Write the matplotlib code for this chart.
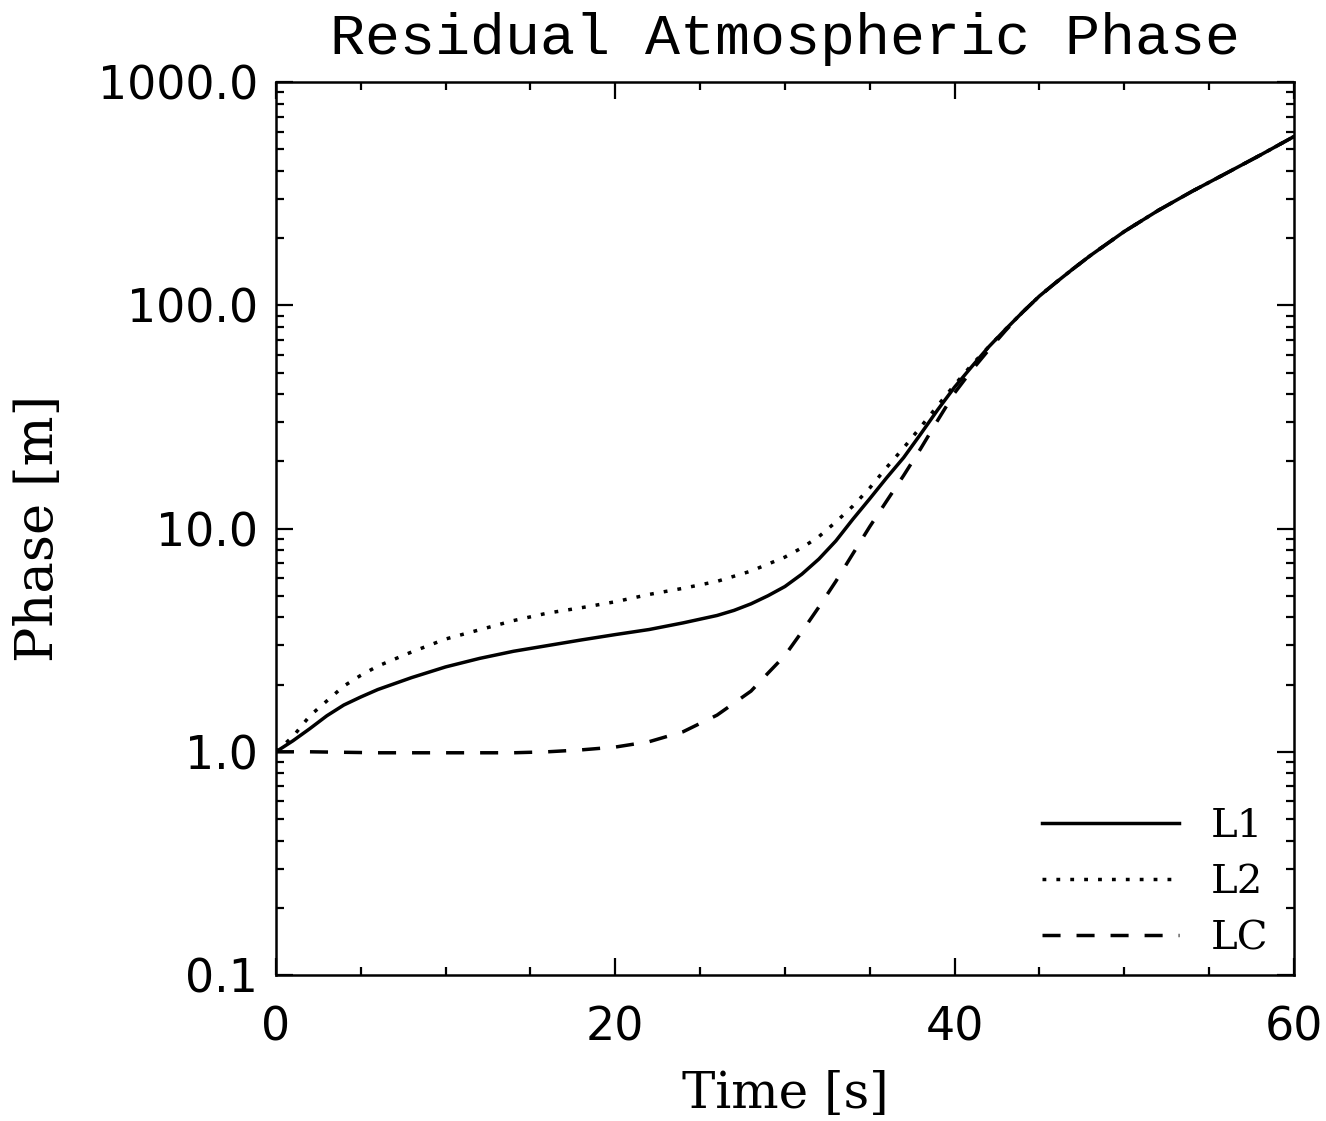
import matplotlib
matplotlib.use("Agg")
import matplotlib.pyplot as plt
from matplotlib.ticker import MultipleLocator, LogLocator, NullFormatter

# ---------------------------------------------------------------------------
# Data
# ---------------------------------------------------------------------------

t_l1 = [0, 1, 2, 3, 4, 5, 6, 8, 10, 12, 14, 16, 18, 20, 22, 24, 26, 27, 28, 29, 30,
        31, 32, 33, 34, 35, 36, 37, 38, 39, 40, 41, 42, 43, 44, 45, 46, 47, 48,
        50, 52, 54, 56, 58, 60]
phase_l1 = [1.0, 1.12, 1.27, 1.45, 1.62, 1.76, 1.9, 2.15, 2.4, 2.62, 2.82, 2.99,
            3.17, 3.35, 3.53, 3.78, 4.08, 4.3, 4.6, 5.0, 5.5, 6.25, 7.3, 8.8, 11.0,
            13.6, 16.9, 20.8, 26.5, 34.0, 43.0, 53.0, 65.0, 78.0, 93.0, 110.0,
            127.0, 146.0, 167.0, 214.0, 266.0, 324.0, 390.0, 470.0, 570.0]

t_l2 = [0, 1, 2, 3, 4, 5, 6, 8, 10, 12, 14, 16, 18, 20, 22, 24, 26, 28, 30, 31,
        32, 33, 34, 35, 36, 37, 38, 39, 40, 41, 42, 43, 44, 45, 46, 47, 48,
        50, 52, 54, 56, 58, 60]
phase_l2 = [1.0, 1.17, 1.45, 1.69, 1.97, 2.2, 2.42, 2.8, 3.2, 3.52, 3.87, 4.18,
            4.42, 4.7, 5.07, 5.4, 5.8, 6.45, 7.45, 8.2, 9.2, 10.7, 12.6, 15.2, 18.8,
            23.0, 28.5, 35.5, 44.0, 54.0, 65.0, 78.0, 93.0, 110.0, 127.0, 146.0,
            167.0, 214.0, 266.0, 324.0, 390.0, 470.0, 570.0]

t_lc = [0, 2, 4, 6, 8, 10, 12, 14, 16, 18, 20, 22, 24, 26, 28, 29, 30, 31, 32, 33,
        34, 35, 36, 37, 38, 39, 40, 41, 42, 43, 44, 45, 46, 47, 48,
        50, 52, 54, 56, 58, 60]
phase_lc = [1.0, 1.0, 0.995, 0.99, 0.99, 0.99, 0.99, 0.99, 1.0, 1.02, 1.05, 1.11,
            1.23, 1.46, 1.87, 2.25, 2.7, 3.45, 4.45, 5.8, 7.7, 10.2, 13.3, 17.3,
            22.8, 30.5, 40.5, 51.0, 63.0, 77.0, 93.0, 110.0, 127.0, 146.0, 167.0,
            214.0, 266.0, 324.0, 390.0, 470.0, 570.0]

series_labels = ["L1", "L2", "LC"]
y_ticks = [0.1, 1.0, 10.0, 100.0, 1000.0]
y_tick_labels = ["0.1", "1.0", "10.0", "100.0", "1000.0"]
x_ticks = [0, 20, 40, 60]

# ---------------------------------------------------------------------------
# Figure
# ---------------------------------------------------------------------------

SERIF = "DejaVu Serif"

fig = plt.figure(figsize=(13.26, 11.21), dpi=100)
ax = fig.add_axes([0.2081, 0.1302, 0.7677, 0.7966])

lw = 2.5
ax.plot(t_l1, phase_l1, color="black", lw=lw, label=series_labels[0])
ax.plot(t_l2, phase_l2, color="black", lw=lw, linestyle=(0, (1.1, 2.9)),
        label=series_labels[1])
ax.plot(t_lc, phase_lc, color="black", lw=lw, linestyle=(0, (5.2, 4.6)),
        label=series_labels[2])

ax.set_yscale("log")
ax.set_xlim(0, 60)
ax.set_ylim(0.1, 1000)

ax.set_xticks(x_ticks)
ax.set_xticklabels([str(v) for v in x_ticks])
ax.xaxis.set_minor_locator(MultipleLocator(5))
ax.set_yticks(y_ticks)
ax.set_yticklabels(y_tick_labels)
ax.yaxis.set_minor_locator(LogLocator(base=10, subs=range(2, 10)))
ax.yaxis.set_minor_formatter(NullFormatter())

ax.tick_params(which="both", direction="in", top=True, right=True, width=1.6,
               labelsize=33, colors="black")
ax.tick_params(which="major", length=12)
ax.tick_params(which="minor", length=6)
ax.tick_params(axis="x", which="major", pad=22)
ax.tick_params(axis="y", which="major", pad=13)
for lab in ax.get_xticklabels() + ax.get_yticklabels():
    lab.set_family("DejaVu Sans")

for s in ax.spines.values():
    s.set_linewidth(1.8)

ax.set_title("Residual Atmospheric Phase", family="Liberation Mono", fontsize=42,
             pad=20)
ax.set_xlabel("Time [s]", family=SERIF, fontsize=36, labelpad=14)
ax.set_ylabel("Phase [m]", family=SERIF, fontsize=38, labelpad=24)

ax.legend(loc="lower right", bbox_to_anchor=(0.975, 0.02), frameon=False,
          prop={"family": SERIF, "size": 29}, handlelength=3.4,
          handletextpad=0.8, labelspacing=0.47, borderpad=0, borderaxespad=0)

fig.savefig("out.png", dpi=100, facecolor="white")
plt.close(fig)
